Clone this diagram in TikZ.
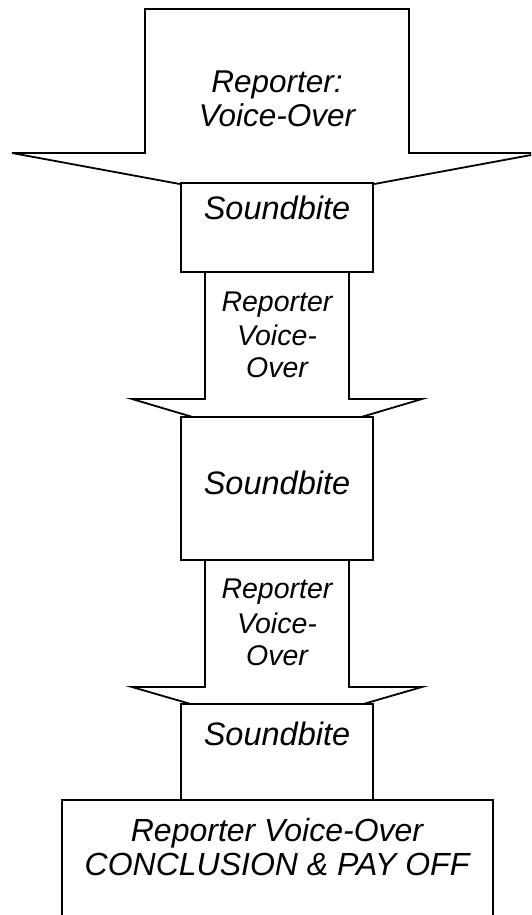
\documentclass[tikz,border=0pt]{standalone}
\usepackage{fontspec}
\setmainfont{Liberation Sans}
\begin{document}
\begin{tikzpicture}[x=1pt,y=-1pt,
  shapeline/.style={draw=black,line width=1.8pt,fill=white,line join=miter},
  lbl/.style={anchor=base,inner sep=0pt,font=\itshape},
  big/.style={font=\fontsize{32.5}{38}\selectfont\itshape},
  mid/.style={font=\fontsize{28.5}{33}\selectfont\itshape},
  topf/.style={font=\fontsize{31.5}{34}\selectfont\itshape},
  botf/.style={font=\fontsize{32}{34}\selectfont\itshape}]
\useasboundingbox (0,0) rectangle (531,915);
\clip (0,0) rectangle (531,915);
% top arrow
\draw[shapeline] (145,9) -- (409,9) -- (409,153) -- (542,153) -- (277,202) -- (12,153) -- (145,153) -- cycle;
\node[lbl,topf] (t1a) at (277,93) {Reporter:};
\node[lbl,topf] (t1b) at (277,127) {Voice-Over};
% box 1
\draw[shapeline] (181,183) rectangle (373,272);
\node[lbl,big] (s1) at (277,219) {Soundbite};
% arrow 2
\draw[shapeline] (205,272) -- (349,272) -- (349,399) -- (422,399) -- (277,442) -- (132,399) -- (205,399) -- cycle;
\node[lbl,mid] (t2a) at (277,311) {Reporter};
\node[lbl,mid] (t2b) at (277,345) {Voice-};
\node[lbl,mid] (t2c) at (277,377) {Over};
% box 2
\draw[shapeline] (181,417) rectangle (373,560);
\node[lbl,big] (s2) at (277,494) {Soundbite};
% arrow 3
\draw[shapeline] (205,560) -- (349,560) -- (349,687) -- (422,687) -- (277,729) -- (132,687) -- (205,687) -- cycle;
\node[lbl,mid] (t3a) at (277,598) {Reporter};
\node[lbl,mid] (t3b) at (277,633) {Voice-};
\node[lbl,mid] (t3c) at (277,665) {Over};
% box 3
\draw[shapeline] (181,704) rectangle (373,800);
\node[lbl,big] (s3) at (277,745) {Soundbite};
% bottom box
\draw[shapeline] (62,800) rectangle (493,940);
\node[lbl,botf] (b1) at (277,841) {Reporter Voice-Over};
\node[lbl,botf] (b2) at (277,875) {CONCLUSION \& PAY OFF};
\end{tikzpicture}
\end{document}
